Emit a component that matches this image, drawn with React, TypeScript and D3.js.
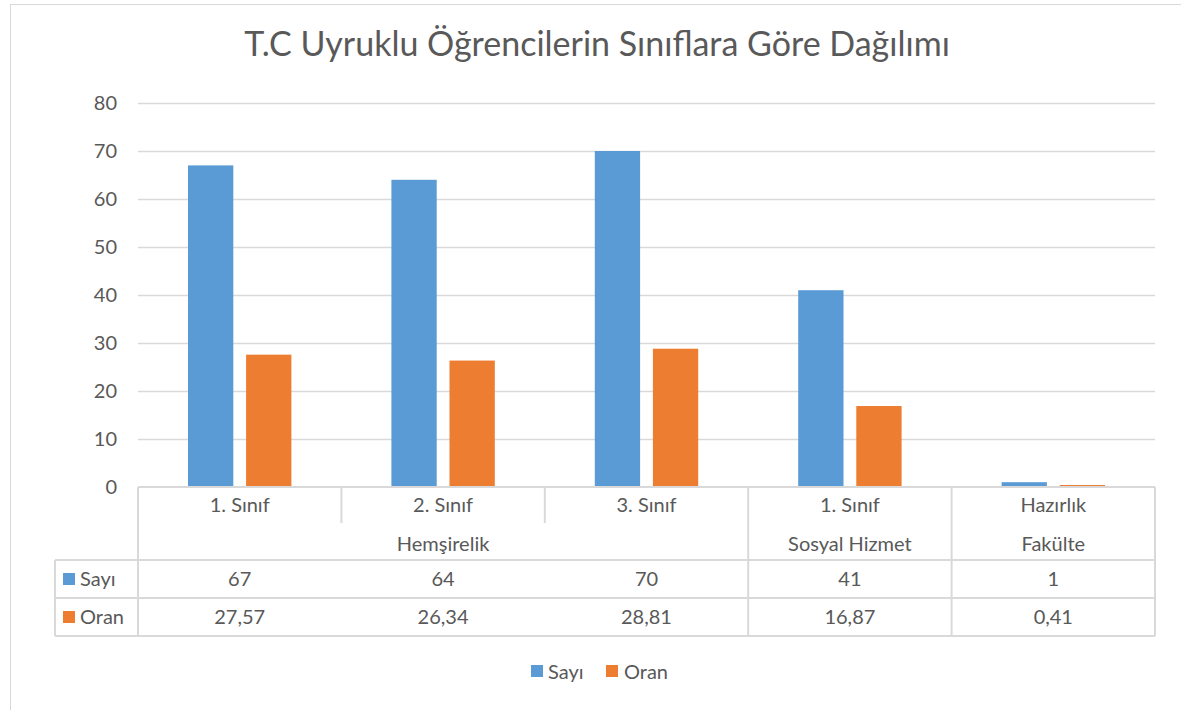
import React from 'react';
import * as d3 from 'd3';

const title = 'T.C Uyruklu Öğrencilerin Sınıflara Göre Dağılımı';
const classes = ['1. Sınıf', '2. Sınıf', '3. Sınıf', '1. Sınıf', 'Hazırlık'];
const groups = [
  { name: 'Hemşirelik', span: 3 },
  { name: 'Sosyal Hizmet', span: 1 },
  { name: 'Fakülte', span: 1 },
];
const sayi = [67, 64, 70, 41, 1];
const oran = [27.57, 26.34, 28.81, 16.87, 0.41];
const sayiLabels = ['67', '64', '70', '41', '1'];
const oranLabels = ['27,57', '26,34', '28,81', '16,87', '0,41'];
const seriesNames = ['Sayı', 'Oran'];
const yTicks = [0, 10, 20, 30, 40, 50, 60, 70, 80];

const W = 1181;
const H = 710;
const colors = ['#5B9BD5', '#ED7D31'];
const grid = '#D9D9D9';
const textColor = '#595959';
const font = 'Lato, "Open Sans", sans-serif';
const fs = 20;

export default function App() {
  const left = 138;
  const right = 1155;
  const top = 103;
  const bottom = 487;

  const y = d3.scaleLinear().domain([0, 80]).range([bottom, top]);
  const x = d3.scaleBand<number>().domain(d3.range(classes.length)).range([left, right]);
  const inner = d3.scaleBand<number>()
    .domain([0, 1])
    .range([50, x.bandwidth() - 50])
    .paddingInner(0.22);

  const rowCat = bottom + 36;
  const rowGroup = bottom + 73;
  const rowSayi = rowGroup + 38;
  const rowOran = rowSayi + 38;
  const tableLeft = 55;

  const series = [sayi, oran];
  const labels = [sayiLabels, oranLabels];

  // group positions
  let acc = 0;
  const groupPos = groups.map(g => {
    const start = acc;
    acc += g.span;
    return { ...g, start, end: acc };
  });

  return (
    <svg width={W} height={H} style={{ position: 'absolute', left: 0, top: 0, background: '#fff' }}
      fontFamily={font}>
      <rect x={10.5} y={4.5} width={W} height={H + 10} fill="#fff" stroke={grid} />
      <text x={597} y={56} textAnchor="middle" fontSize={34} fill={textColor}>{title}</text>

      {yTicks.map(t => (
        <g key={t}>
          {t > 0 && <line x1={left} x2={right} y1={y(t) + 0.5} y2={y(t) + 0.5} stroke={grid} strokeWidth={1.3} />}
          <text x={117} y={y(t) + 7} textAnchor="end" fontSize={fs} fill={textColor}>{t}</text>
        </g>
      ))}

      {series.map((s, si) => s.map((v, i) => (
        <rect key={`${si}-${i}`} x={(x(i) ?? 0) + (inner(si) ?? 0)} y={y(v)}
          width={inner.bandwidth()} height={bottom - y(v)} fill={colors[si]} />
      )))}

      {/* data table */}
      <g stroke={grid} strokeWidth={2} fill="none">
        <line x1={left} x2={right} y1={bottom} y2={bottom} />
        <line x1={tableLeft} x2={right} y1={rowGroup} y2={rowGroup} />
        <line x1={tableLeft} x2={right} y1={rowSayi} y2={rowSayi} />
        <line x1={tableLeft} x2={right} y1={rowOran} y2={rowOran} />
        <line x1={tableLeft} x2={tableLeft} y1={rowGroup} y2={rowOran} />
        <line x1={left} x2={left} y1={bottom} y2={rowOran} />
        <line x1={right} x2={right} y1={bottom} y2={rowOran} />
        {d3.range(1, classes.length).map(i => {
          const inGroup = groupPos.some(g => i > g.start && i < g.end);
          return <line key={i} x1={x(i)} x2={x(i)} y1={bottom} y2={inGroup ? rowCat : rowOran} />;
        })}
      </g>

      {classes.map((c, i) => (
        <text key={i} x={(x(i) ?? 0) + x.bandwidth() / 2} y={bottom + 25} textAnchor="middle"
          fontSize={fs} fill={textColor}>{c}</text>
      ))}
      {groupPos.map(g => (
        <text key={g.name} x={((x(g.start) ?? 0) + (x(g.end - 1) ?? 0) + x.bandwidth()) / 2} y={rowCat + 28}
          textAnchor="middle" fontSize={fs} fill={textColor}>{g.name}</text>
      ))}
      {labels.map((ls, si) => {
        const rowTop = si === 0 ? rowGroup : rowSayi;
        return (
          <g key={si}>
            <rect x={63} y={rowTop + 13} width={12} height={12} fill={colors[si]} />
            <text x={80} y={rowTop + 26} fontSize={fs} fill={textColor}>{seriesNames[si]}</text>
            {ls.map((l, i) => (
              <text key={i} x={(x(i) ?? 0) + x.bandwidth() / 2} y={rowTop + 26} textAnchor="middle"
                fontSize={fs} fill={textColor}>{l}</text>
            ))}
          </g>
        );
      })}

      {/* legend */}
      <g>
        <rect x={531} y={665} width={12} height={12} fill={colors[0]} />
        <text x={548} y={679} fontSize={fs} fill={textColor}>{seriesNames[0]}</text>
        <rect x={606} y={665} width={12} height={12} fill={colors[1]} />
        <text x={624} y={679} fontSize={fs} fill={textColor}>{seriesNames[1]}</text>
      </g>
    </svg>
  );
}
